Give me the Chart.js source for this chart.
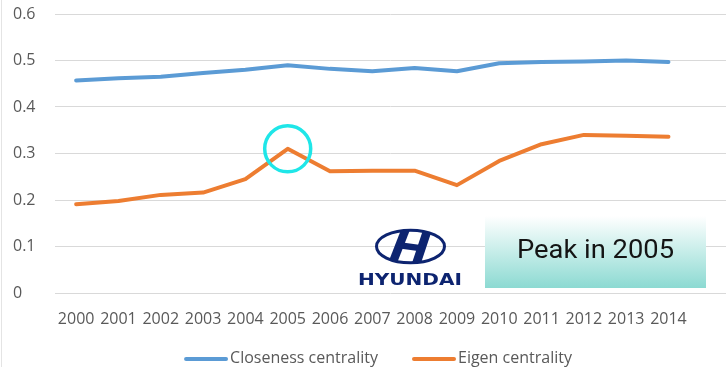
<!DOCTYPE html>
<html>
<head>
<meta charset="utf-8">
<script src="https://cdn.jsdelivr.net/npm/chart.js@4/dist/chart.umd.min.js"></script>
<style>
  html, body { margin: 0; padding: 0; background: #fff; }
  #wrap { width: 726px; height: 367px; position: relative; }
  #wrap:before { content: ''; position: absolute; left: 1px; top: 0; bottom: 0; width: 1px; background: #e4e4e4; }
</style>
</head>
<body>
<div id="wrap"><canvas id="myChart" width="726" height="367"></canvas></div>
<script>
// years along the x-axis
var years = ["2000", "2001", "2002", "2003", "2004", "2005", "2006", "2007", "2008", "2009", "2010", "2011", "2012", "2013", "2014"];

// centrality values per year
var closeness = [0.457, 0.462, 0.465, 0.473, 0.480, 0.490, 0.482, 0.477, 0.484, 0.477, 0.494, 0.497, 0.498, 0.500, 0.497];
var eigen = [0.191, 0.198, 0.211, 0.216, 0.245, 0.310, 0.262, 0.263, 0.263, 0.232, 0.284, 0.320, 0.340, 0.338, 0.336];

// y-axis labels
var yTicks = ["0", "0.1", "0.2", "0.3", "0.4", "0.5", "0.6"];

var peakIndex = 5;
var peakText = "Peak in 2005";

function points(values) {
    return values.map(function (v, i) { return { x: i, y: v }; });
}

// legend under the axis: a short thick line then the series name
var lineLegend = {
    id: 'lineLegend',
    afterDraw: function (chart) {
        var c = chart.ctx;
        var sets = chart.data.datasets;
        var lineW = 44, gapText = 2, gapItem = 34, y = 358;
        c.save();
        c.font = '16px "Open Sans"';
        c.textBaseline = 'middle';
        c.textAlign = 'left';
        var widths = sets.map(function (d) { return c.measureText(d.label).width; });
        var total = 0;
        widths.forEach(function (w) { total += lineW + gapText + w; });
        total += gapItem * (sets.length - 1);
        var x = 378 - total / 2;
        sets.forEach(function (d, i) {
            c.beginPath();
            c.moveTo(x + 2, y + 1);
            c.lineTo(x + lineW - 2, y + 1);
            c.lineWidth = 4;
            c.lineCap = 'round';
            c.strokeStyle = d.borderColor;
            c.stroke();
            c.fillStyle = '#595959';
            c.fillText(d.label, x + lineW + gapText, y);
            x += lineW + gapText + widths[i] + gapItem;
        });
        c.restore();
    }
};

// circle around the peak, the Hyundai badge and the caption box
var extras = {
    id: 'extras',
    afterDatasetsDraw: function (chart) {
        var c = chart.ctx;
        var xs = chart.scales.x, ys = chart.scales.y;

        // ring on the 2005 eigen value
        var cx = xs.getPixelForValue(peakIndex);
        var cy = ys.getPixelForValue(eigen[peakIndex]);
        c.save();
        c.beginPath();
        c.arc(cx, cy, 23, 0, Math.PI * 2);
        c.lineWidth = 3.5;
        c.strokeStyle = '#1fe6e8';
        c.stroke();
        c.restore();

        // logo: oval with slanted H
        var navy = '#0d2470';
        var lx = 410.5, ly = 246.5;
        c.save();
        c.beginPath();
        c.ellipse(lx, ly, 34, 16.3, 0, 0, Math.PI * 2);
        c.lineWidth = 3;
        c.strokeStyle = navy;
        c.stroke();
        c.clip();
        c.fillStyle = navy;
        // left stem
        c.beginPath();
        c.moveTo(lx - 9, ly - 18); c.lineTo(lx + 0, ly - 18);
        c.lineTo(lx - 14, ly + 18); c.lineTo(lx - 23, ly + 18);
        c.closePath(); c.fill();
        // right stem
        c.beginPath();
        c.moveTo(lx + 13, ly - 18); c.lineTo(lx + 22, ly - 18);
        c.lineTo(lx + 10, ly + 18); c.lineTo(lx + 1, ly + 18);
        c.closePath(); c.fill();
        // slanted crossbar
        c.beginPath();
        c.moveTo(lx - 8, ly - 4); c.lineTo(lx + 14, ly - 1);
        c.lineTo(lx + 11, ly + 5); c.lineTo(lx - 11, ly + 2);
        c.closePath(); c.fill();
        c.restore();

        c.save();
        c.fillStyle = navy;
        c.font = 'bold 16px "DejaVu Sans"';
        c.textBaseline = 'alphabetic';
        c.textAlign = 'left';
        var w = c.measureText('HYUNDAI').width;
        c.translate(358, 285);
        c.scale(104 / w, 1);
        c.fillText('HYUNDAI', 0, 0);
        c.restore();

        // caption box
        var bx = 485, by = 216, bw = 221, bh = 72;
        c.save();
        var g = c.createLinearGradient(0, by, 0, by + bh);
        g.addColorStop(0, '#ffffff');
        g.addColorStop(1, '#8cdad2');
        c.fillStyle = g;
        c.fillRect(bx, by, bw, bh);
        c.fillStyle = '#141414';
        c.font = '26px Roboto';
        c.textAlign = 'left';
        c.textBaseline = 'alphabetic';
        var tw = c.measureText(peakText).width;
        c.translate(517, 258);
        c.scale(157 / tw, 1);
        c.fillText(peakText, 0, 0);
        c.restore();
    }
};

var ctx = document.getElementById('myChart').getContext('2d');

var myChart = new Chart(ctx, {
    type: 'line',
    data: {
        datasets: [{
            data: points(closeness),
            label: "Closeness centrality",
            borderColor: "#5b9bd5",
            backgroundColor: "#5b9bd5",
            borderWidth: 4,
            pointRadius: 0,
            borderCapStyle: 'round',
            borderJoinStyle: 'round',
            fill: false
        },
        {
            data: points(eigen),
            label: "Eigen centrality",
            borderColor: "#ed7d31",
            backgroundColor: "#ed7d31",
            borderWidth: 4,
            pointRadius: 0,
            borderCapStyle: 'round',
            borderJoinStyle: 'round',
            fill: false
        }]
    },
    options: {
        responsive: false,
        animation: false,
        layout: { padding: { left: 13, top: 14, right: 0, bottom: 0 } },
        plugins: {
            tooltip: { enabled: false },
            legend: { display: false }
        },
        scales: {
            x: {
                type: 'linear',
                min: -0.5,
                max: 15.36,
                afterBuildTicks: function (scale) {
                    scale.ticks = years.map(function (_, i) { return { value: i }; });
                },
                afterFit: function (scale) { scale.height = 74; },
                ticks: {
                    autoSkip: false,
                    maxRotation: 0,
                    color: '#595959',
                    font: { family: 'Open Sans', size: 16 },
                    padding: 9,
                    callback: function (v) { return years[v]; }
                },
                grid: { display: false },
                border: { display: false }
            },
            y: {
                min: 0,
                max: 0.6,
                afterBuildTicks: function (scale) {
                    scale.ticks = yTicks.map(function (_, i) { return { value: i / 10 }; });
                },
                afterFit: function (scale) { scale.width = 42; },
                ticks: {
                    color: '#595959',
                    font: { family: 'Open Sans', size: 16 },
                    crossAlign: 'far',
                    callback: function (v, i) { return yTicks[i]; }
                },
                grid: { color: '#d9d9d9', lineWidth: 1, drawTicks: false },
                border: { display: false }
            }
        }
    },
    plugins: [extras, lineLegend]
});
</script>
</body>
</html>
